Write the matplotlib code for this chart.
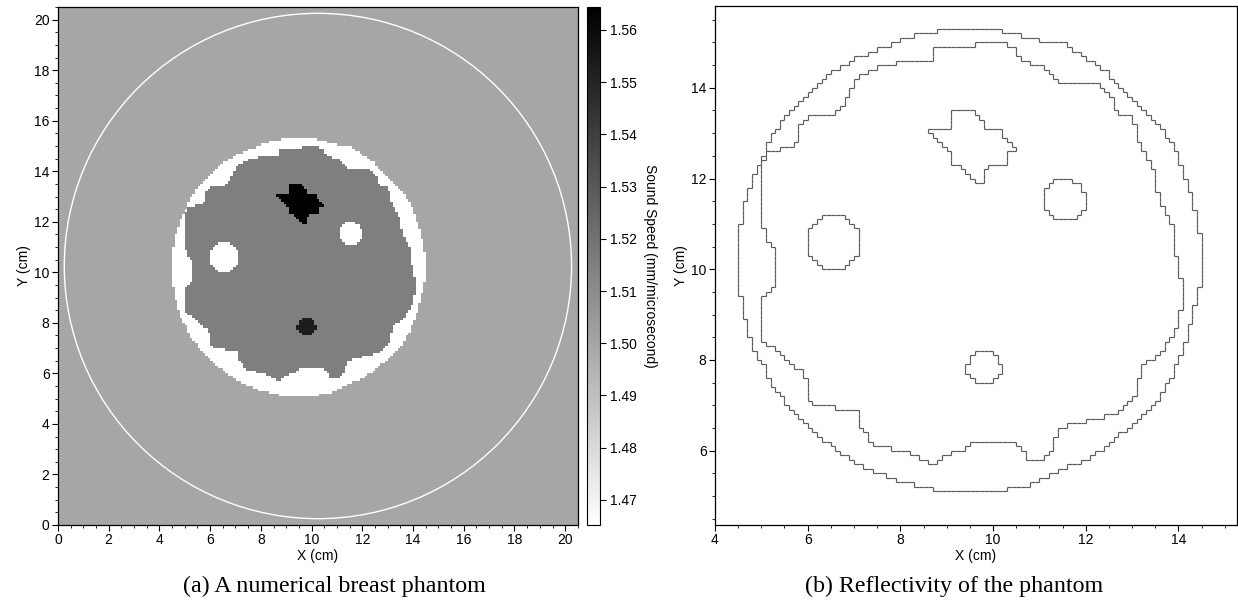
import numpy as np
import matplotlib.pyplot as plt
from matplotlib.path import Path
from matplotlib.collections import LineCollection
from matplotlib.patches import Circle

plt.rcParams['font.family'] = ['Liberation Sans', 'DejaVu Sans']

# sound speeds (mm/microsecond)
c_water = 1.500
c_fat = 1.4652
c_gland = 1.515
c_tumor = 1.553
c_star = 1.5644

dx = 0.1      # pixel size (cm)
n = 205       # pixels per side

# skin / fat outline (cm)
skin_x = [9.01, 10.05, 10.75, 11.56, 12.38, 12.82, 13.39, 13.88, 14.26, 14.46, 14.54,
          14.54, 14.37, 14.15, 13.88, 13.47, 12.90, 12.17, 11.36, 10.75, 10.05,
          8.91, 7.99, 7.47, 7.06, 6.65, 6.25, 5.92, 5.60, 5.27, 5.03, 4.80, 4.69,
          4.51, 4.51, 4.61, 4.71, 4.83, 5.03, 5.23, 5.56, 5.84, 6.17, 6.57, 7.06,
          7.51, 8.32]
skin_y = [15.29, 15.29, 15.10, 14.96, 14.43, 13.93, 13.41, 12.78, 11.70, 10.73, 10.73,
          9.92, 9.32, 8.35, 7.69, 6.98, 6.48, 5.89, 5.52, 5.22, 5.11,
          5.11, 5.32, 5.53, 5.72, 6.02, 6.31, 6.64, 6.98, 7.39, 7.90, 8.31, 8.73,
          9.63, 10.73, 11.36, 11.67, 12.03, 12.49, 12.95, 13.41, 13.72, 14.03, 14.37, 14.66,
          14.84, 15.16]

# glandular tissue outline (cm)
gland_x = [8.68, 9.64, 9.64, 10.23, 10.53, 10.55, 10.87, 11.16, 11.44, 12.25, 12.58,
           12.70, 12.99, 13.19, 13.47, 13.59, 13.84, 14.00, 14.12, 14.00, 13.72, 13.51,
           13.19, 13.11, 12.66, 12.01, 11.48, 11.36, 11.24, 11.12, 10.75, 10.53, 10.31,
           9.54, 9.41, 9.01, 8.81, 8.60, 8.28, 7.91, 7.38, 7.26, 7.06, 7.06, 6.05,
           6.05, 5.84, 5.44, 5.07, 4.95, 4.95, 5.03, 5.34, 5.34, 5.11, 5.01, 4.95,
           5.13, 5.72, 5.84, 6.05, 6.61, 6.86, 7.10, 7.47, 8.20, 8.68]
gland_y = [14.87, 14.87, 14.97, 14.97, 14.87, 14.66, 14.53, 14.41, 14.14, 14.14, 13.72,
           13.42, 13.42, 12.70, 12.11, 11.57, 11.07, 9.90, 9.65, 8.73, 8.31, 8.06,
           7.85, 7.31, 6.85, 6.64, 6.52, 6.31, 5.97, 5.82, 5.82, 6.14, 6.24,
           6.24, 6.06, 5.93, 5.72, 5.72, 5.93, 6.03, 6.14, 6.35, 6.56, 6.85, 7.06,
           7.39, 7.77, 8.10, 8.40, 8.56, 8.90, 9.40, 9.65, 10.36, 10.65, 10.99, 12.24,
           12.61, 12.70, 13.20, 13.41, 13.41, 13.82, 14.24, 14.45, 14.64, 14.64]

# spiculated lesion outline (cm)
star_x = [9.21, 9.50, 9.62, 9.82, 9.82, 10.14, 10.16, 10.35, 10.53, 10.53, 10.27, 10.27,
          9.94, 9.82, 9.82, 9.66, 9.50, 9.33, 9.09, 9.09, 8.89, 8.60, 8.60, 9.09, 9.09]
star_y = [13.51, 13.51, 13.37, 13.32, 13.11, 13.11, 13.00, 12.81, 12.70, 12.61, 12.61, 12.28,
          12.25, 12.15, 11.89, 11.89, 12.05, 12.24, 12.28, 12.49, 12.82, 13.03, 13.09, 13.09, 13.41]

# round lesions
lump_x = [6.55, 11.53, 9.80]
lump_y = [10.60, 11.53, 7.83]
lump_r = [0.60, 0.47, 0.36]
lump_c = [c_fat, c_fat, c_tumor]

# transducer ring
ring_x, ring_y, ring_r = 10.25, 10.25, 10.0

# build the phantom
xc = (np.arange(n) + 0.5) * dx
X, Y = np.meshgrid(xc, xc)
pts = np.column_stack([X.ravel(), Y.ravel()])

def inside(px, py):
    return Path(np.column_stack([px, py])).contains_points(pts).reshape(X.shape)

img = np.full(X.shape, c_water)
img[inside(skin_x, skin_y)] = c_fat
img[inside(gland_x, gland_y)] = c_gland
img[inside(star_x, star_y)] = c_star
for x0, y0, r, c in zip(lump_x, lump_y, lump_r, lump_c):
    img[(X - x0) ** 2 + (Y - y0) ** 2 <= r * r] = c

fig = plt.figure(figsize=(12.38, 6.04), dpi=100)
ax1 = fig.add_axes([0.0468, 0.1308, 0.42, 0.8576])
cax = fig.add_axes([0.4741, 0.1308, 0.0105, 0.8576])
ax2 = fig.add_axes([0.5775, 0.1308, 0.4216, 0.859])

im = ax1.imshow(img, origin='lower', extent=[0, n * dx, 0, n * dx], cmap='gray_r',
                vmin=img.min(), vmax=img.max(), interpolation='nearest', aspect='auto')
ax1.add_patch(Circle((ring_x, ring_y), ring_r, fill=False, color='white', lw=1.0))
ax1.set_xlim(0, 20.5)
ax1.set_ylim(0, 20.5)
ax1.set_xticks(np.arange(0, 21, 2))
ax1.set_yticks(np.arange(0, 21, 2))
ax1.set_xticks(np.arange(0, 20.6, 0.5), minor=True)
ax1.set_yticks(np.arange(0, 20.6, 0.5), minor=True)
ax1.set_xlabel('X (cm)', fontsize=10, labelpad=1)
ax1.set_ylabel('Y (cm)', fontsize=10, labelpad=2)

cb = fig.colorbar(im, cax=cax)
cb.set_ticks(np.arange(1.47, 1.565, 0.01))
cb.ax.set_yticklabels(['%.2f' % v for v in np.arange(1.47, 1.565, 0.01)])
cb.set_label('Sound Speed (mm/microsecond)', rotation=270, labelpad=14, fontsize=10)
cb.ax.tick_params(labelsize=10, length=4, width=0.8, direction='out')
cb.outline.set_linewidth(0.8)

# reflectivity: edges between pixels of different sound speed
segs = []
for j, i in zip(*np.nonzero(img[:, 1:] != img[:, :-1])):
    x = (i + 1) * dx
    segs.append([(x, j * dx), (x, (j + 1) * dx)])
for j, i in zip(*np.nonzero(img[1:, :] != img[:-1, :])):
    y = (j + 1) * dx
    segs.append([(i * dx, y), ((i + 1) * dx, y)])
ax2.add_collection(LineCollection(segs, colors='#5a5a5a', linewidths=0.85))
ax2.set_xlim(4, 15.26)
ax2.set_ylim(4.36, 15.8)
ax2.set_xticks(np.arange(4, 15, 2))
ax2.set_yticks(np.arange(6, 15, 2))
ax2.set_xticks(np.arange(4, 15.3, 0.5), minor=True)
ax2.set_yticks(np.arange(4.5, 15.8, 0.5), minor=True)
ax2.set_xlabel('X (cm)', fontsize=10, labelpad=1)
ax2.set_ylabel('Y (cm)', fontsize=10, labelpad=2)

for ax in (ax1, ax2):
    ax.tick_params(which='major', labelsize=10, length=4, width=0.8, direction='out', pad=2)
    ax.tick_params(which='minor', length=2, width=0.6, direction='out')
    for s in ax.spines.values():
        s.set_linewidth(0.9)

fig.text(334 / 1238, 1 - 586 / 604, '(a) A numerical breast phantom',
         family='Liberation Serif', fontsize=17.3, ha='center', va='center')
fig.text(954 / 1238, 1 - 586 / 604, '(b) Reflectivity of the phantom',
         family='Liberation Serif', fontsize=17.3, ha='center', va='center')

fig.savefig('out.png', dpi=100)
